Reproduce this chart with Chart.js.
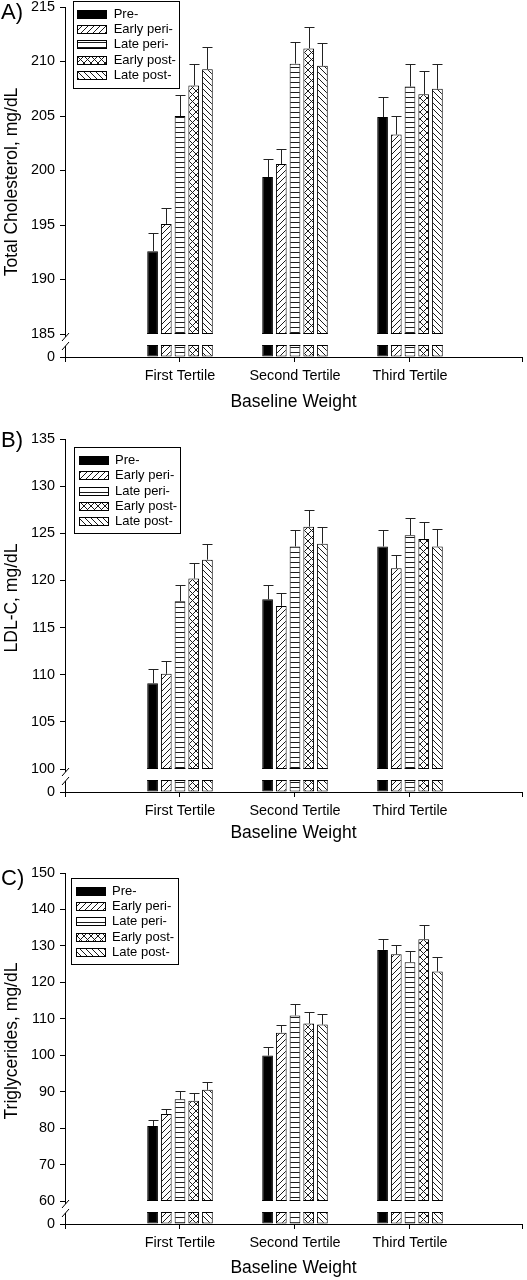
<!DOCTYPE html>
<html>
<head>
<meta charset="utf-8">
<script src="https://cdn.jsdelivr.net/npm/chart.js@4.4.1/dist/chart.umd.min.js"></script>
<style>
html,body{margin:0;padding:0;background:#fff;}
body{width:527px;height:1280px;position:relative;overflow:hidden;}
canvas{position:absolute;left:0;}
</style>
</head>
<body>
<canvas id="cA" width="527" height="415" style="top:0px"></canvas>
<canvas id="cB" width="527" height="430" style="top:415px"></canvas>
<canvas id="cC" width="527" height="435" style="top:845px"></canvas>
<script>
// ---------------- DATA ----------------
const categories = ['First Tertile', 'Second Tertile', 'Third Tertile'];
const seriesLabels = ['Pre-', 'Early peri-', 'Late peri-', 'Early post-', 'Late post-'];

// Panel A: Total Cholesterol, mg/dL
const tcPre       = [192.6, 199.4, 204.9];
const tcEarlyPeri = [195.1, 200.6, 203.3];
const tcLatePeri  = [205.0, 209.8, 207.7];
const tcEarlyPost = [207.8, 211.2, 207.0];
const tcLatePost  = [209.3, 209.6, 207.5];
const tcPreErr       = [1.7, 1.7, 1.8];
const tcEarlyPeriErr = [1.5, 1.4, 1.7];
const tcLatePeriErr  = [1.9, 2.0, 2.1];
const tcEarlyPostErr = [2.0, 2.0, 2.1];
const tcLatePostErr  = [2.0, 2.1, 2.3];
const tcTicks = [0, 185, 190, 195, 200, 205, 210, 215];

// Panel B: LDL-C, mg/dL
const ldlPre       = [109.1, 118.0, 123.6];
const ldlEarlyPeri = [110.1, 117.3, 121.3];
const ldlLatePeri  = [117.8, 123.6, 124.8];
const ldlEarlyPost = [120.2, 125.7, 124.4];
const ldlLatePost  = [122.2, 123.9, 123.6];
const ldlPreErr       = [1.5, 1.5, 1.7];
const ldlEarlyPeriErr = [1.4, 1.35, 1.4];
const ldlLatePeriErr  = [1.7, 1.8, 1.8];
const ldlEarlyPostErr = [1.7, 1.8, 1.8];
const ldlLatePostErr  = [1.7, 1.8, 1.9];
const ldlTicks = [0, 100, 105, 110, 115, 120, 125, 130, 135];

// Panel C: Triglycerides, mg/dL
const tgPre       = [80.6, 99.9, 128.9];
const tgEarlyPeri = [83.9, 106.2, 127.7];
const tgLatePeri  = [87.9, 110.9, 125.5];
const tgEarlyPost = [87.5, 108.7, 131.8];
const tgLatePost  = [90.5, 108.4, 123.0];
const tgPreErr       = [1.65, 2.3, 3.1];
const tgEarlyPeriErr = [1.4, 2.2, 2.6];
const tgLatePeriErr  = [2.2, 3.2, 3.2];
const tgEarlyPostErr = [2.1, 3.1, 3.85];
const tgLatePostErr  = [2.1, 3.0, 3.9];
const tgTicks = [0, 60, 70, 80, 90, 100, 110, 120, 130, 140, 150];

// ---------------- BROKEN AXIS SCALE ----------------
class BrokenLinearScale extends Chart.LinearScale {
  getPixelForValue(value) {
    if (value === null || value === undefined || isNaN(value)) return NaN;
    const at = this.options.brkAt, px = this.options.brkPx;
    const bottom = this.bottom, top = this.top, bp = bottom - px;
    if (value <= at) return bottom - (value - this.min) / (at - this.min) * px;
    return bp - (value - at) / (this.max - at) * (bp - top);
  }
  getValueForPixel(pixel) {
    const at = this.options.brkAt, px = this.options.brkPx;
    const bottom = this.bottom, top = this.top, bp = bottom - px;
    if (pixel >= bp) return this.min + (bottom - pixel) / px * (at - this.min);
    return at + (bp - pixel) / (bp - top) * (this.max - at);
  }
}
BrokenLinearScale.id = 'brokenLinear';
Chart.register(BrokenLinearScale);

Chart.defaults.font.family = "'Liberation Sans', Arial, sans-serif";
Chart.defaults.color = '#000';

const FONT = "'Liberation Sans', Arial, sans-serif";

function pat(ctx, kind) {
  const size = kind === 'x' ? 7 : (kind === 'h' ? 5 : 6);
  const c = document.createElement('canvas');
  c.width = kind === 'h' ? 4 : size; c.height = size;
  const g = c.getContext('2d');
  g.fillStyle = '#fff'; g.fillRect(0, 0, c.width, c.height);
  g.strokeStyle = '#1a1a1a'; g.fillStyle = '#1a1a1a'; g.lineWidth = 1;
  if (kind === 'h') { g.fillRect(0, 2, c.width, 1); }
  g.beginPath();
  if (kind === 'f' || kind === 'x') {
    g.moveTo(-1, size + 1); g.lineTo(size + 1, -1);
    g.moveTo(-1, 1); g.lineTo(1, -1);
    g.moveTo(size - 1, size + 1); g.lineTo(size + 1, size - 1);
  }
  if (kind === 'b' || kind === 'x') {
    g.moveTo(-1, -1); g.lineTo(size + 1, size + 1);
    g.moveTo(size - 1, -1); g.lineTo(size + 1, 1);
    g.moveTo(-1, size - 1); g.lineTo(1, size + 1);
  }
  g.stroke();
  return ctx.createPattern(c, 'repeat');
}

const decoPlugin = {
  id: 'deco',
  afterDatasetsDraw(chart, args, opts) {
    const {ctx, chartArea: ca} = chart;
    const ys = chart.scales.y;
    const brk = ys.bottom - ys.options.brkPx;
    const lowTop = ys.bottom - opts.lowH;
    ctx.save();
    // gap in bars
    ctx.fillStyle = '#fff';
    ctx.fillRect(ca.left + 1, brk, ca.right - ca.left - 1, lowTop - brk);
    ctx.strokeStyle = '#000'; ctx.lineWidth = 1;
    chart.data.datasets.forEach((ds, di) => {
      const meta = chart.getDatasetMeta(di);
      meta.data.forEach((el, j) => {
        const p = el.getProps(['x', 'y', 'width'], true);
        const l = p.x - p.width / 2, r = p.x + p.width / 2;
        ctx.beginPath();
        ctx.moveTo(l, Math.round(brk) - 0.5); ctx.lineTo(r, Math.round(brk) - 0.5);
        ctx.moveTo(l, Math.round(lowTop) + 0.5); ctx.lineTo(r, Math.round(lowTop) + 0.5);
        ctx.stroke();
        // error bar (upper)
        const v = ds.data[j].y + ds.err[j];
        const yt = Math.round(ys.getPixelForValue(v)) + 0.5;
        const xc = Math.round(p.x) + 0.5;
        ctx.strokeStyle = '#222';
        ctx.beginPath();
        ctx.moveTo(xc, p.y); ctx.lineTo(xc, yt);
        ctx.moveTo(xc - 5, yt); ctx.lineTo(xc + 5, yt);
        ctx.stroke();
        ctx.strokeStyle = '#000';
      });
    });
    ctx.restore();
  },
  afterDraw(chart, args, opts) {
    const {ctx, chartArea: ca} = chart;
    const ys = chart.scales.y;
    ctx.save();
    // axis break marks
    const ax = ca.left + 0.5;
    const s1 = ys.bottom - 20, s2 = ys.bottom - 11;
    ctx.fillStyle = '#fff';
    ctx.fillRect(ax - 2.5, s1, 5, s2 - s1);
    ctx.strokeStyle = '#000'; ctx.lineWidth = 1;
    ctx.beginPath();
    ctx.moveTo(ax - 3.5, s1 + 4); ctx.lineTo(ax + 3.5, s1 - 4);
    ctx.moveTo(ax - 3.5, s2 + 4); ctx.lineTo(ax + 3.5, s2 - 4);
    ctx.stroke();
    // y-axis title
    ctx.save();
    ctx.translate(12, opts.yTitleY);
    ctx.rotate(-Math.PI / 2);
    ctx.font = '17.5px ' + FONT;
    ctx.fillStyle = '#000';
    ctx.textAlign = 'center';
    ctx.textBaseline = 'middle';
    ctx.fillText(opts.yTitle, 0, 0);
    ctx.restore();
    // legend
    const L = opts.legend;
    ctx.fillStyle = '#fff';
    ctx.fillRect(L.x, L.y, L.w, L.h);
    ctx.strokeRect(Math.round(L.x) + 0.5, Math.round(L.y) + 0.5, Math.round(L.w), Math.round(L.h));
    ctx.font = '13px ' + FONT;
    ctx.textBaseline = 'middle';
    ctx.textAlign = 'left';
    chart.data.datasets.forEach((ds, i) => {
      const cy = L.y + 13.3 + i * 15.3;
      const sx = Math.round(L.x + 4.5), sy = Math.round(cy - 4.5);
      ctx.fillStyle = ds.backgroundColor;
      ctx.fillRect(sx, sy, 30, 9);
      ctx.strokeRect(sx + 0.5, sy + 0.5, 29, 8);
      ctx.fillStyle = '#000';
      ctx.fillText(ds.label, L.x + 41, cy);
    });
    // panel label
    ctx.font = '22px ' + FONT;
    ctx.fillStyle = '#000';
    ctx.fillText(opts.panel, 1, opts.panelY);
    ctx.restore();
  }
};

function makeChart(spec) {
  const canvas = document.getElementById(spec.id);
  const ctx = canvas.getContext('2d');
  const fills = ['#000', pat(ctx, 'f'), pat(ctx, 'h'), pat(ctx, 'x'), pat(ctx, 'b')];
  const datasets = spec.series.map((vals, i) => ({
    label: seriesLabels[i],
    data: vals.map((v, j) => ({x: j + 1, y: v})),
    err: spec.errors[i],
    backgroundColor: fills[i],
    borderColor: '#000',
    borderWidth: 1,
    borderSkipped: false,
    categoryPercentage: 0.612,
    barPercentage: 0.78
  }));
  const H = canvas.height;
  const xMax = 3.974;
  return new Chart(ctx, {
    type: 'bar',
    data: {datasets},
    plugins: [decoPlugin],
    options: {
      responsive: false,
      animation: false,
      devicePixelRatio: 1,
      layout: {padding: {top: spec.areaTop, left: 0, right: 5, bottom: 0}},
      plugins: {
        legend: {display: false},
        tooltip: {enabled: false},
        deco: {
          lowH: 12,
          legend: spec.legend,
          panel: spec.panel,
          panelY: spec.panelY,
          yTitle: spec.yTitle,
          yTitleY: spec.yTitleY
        }
      },
      scales: {
        x: {
          type: 'linear',
          position: 'bottom',
          min: 0,
          max: xMax,
          offset: false,
          afterBuildTicks: s => { s.ticks = [0, 1, 2, 3, xMax].map(v => ({value: v})); },
          afterFit: s => { s.height = H - spec.areaBottom; s.paddingLeft = 0; s.paddingRight = 0; },
          ticks: {
            autoSkip: false, maxRotation: 0, minRotation: 0, padding: 5,
            font: {size: 14.4, lineHeight: 1.2},
            callback: v => (Number.isInteger(v) && v >= 1 && v <= categories.length) ? categories[v - 1] : ''
          },
          grid: {display: true, offset: false, drawOnChartArea: false, drawTicks: true, tickLength: 5, color: '#000', lineWidth: 1},
          border: {display: true, color: '#000', width: 1},
          title: {display: true, text: 'Baseline Weight', font: {size: 17.5, lineHeight: 1.2}, padding: {top: 0, bottom: spec.xTitlePad}}
        },
        y: {
          type: 'brokenLinear',
          position: 'left',
          min: spec.ticks[0],
          max: spec.ticks[spec.ticks.length - 1],
          brkAt: spec.ticks[1],
          brkPx: 23,
          afterBuildTicks: s => { s.ticks = spec.ticks.map(v => ({value: v})); },
          afterFit: s => { s.width = 65; s.paddingTop = 0; s.paddingBottom = 0; },
          ticks: {
            autoSkip: false, padding: 5,
            font: {size: 14.4, lineHeight: 1.2},
            callback: v => String(v)
          },
          grid: {display: true, drawOnChartArea: false, drawTicks: true, tickLength: 5, color: '#000', lineWidth: 1},
          border: {display: true, color: '#000', width: 1},
          title: {display: false}
        }
      }
    }
  });
}

makeChart({
  id: 'cA', panel: 'A)', panelY: 13,
  series: [tcPre, tcEarlyPeri, tcLatePeri, tcEarlyPost, tcLatePost],
  errors: [tcPreErr, tcEarlyPeriErr, tcLatePeriErr, tcEarlyPostErr, tcLatePostErr],
  ticks: tcTicks, yTitle: 'Total Cholesterol, mg/dL', yTitleY: 182,
  areaTop: 7, areaBottom: 357, xTitlePad: 2.5,
  legend: {x: 72.7, y: 1, w: 106.3, h: 87}
});
makeChart({
  id: 'cB', panel: 'B)', panelY: 26,
  series: [ldlPre, ldlEarlyPeri, ldlLatePeri, ldlEarlyPost, ldlLatePost],
  errors: [ldlPreErr, ldlEarlyPeriErr, ldlLatePeriErr, ldlEarlyPostErr, ldlLatePostErr],
  ticks: ldlTicks, yTitle: 'LDL-C, mg/dL', yTitleY: 598 - 415,
  areaTop: 24, areaBottom: 377, xTitlePad: 1.5,
  legend: {x: 74, y: 32.3, w: 106.3, h: 86}
});
makeChart({
  id: 'cC', panel: 'C)', panelY: 34,
  series: [tgPre, tgEarlyPeri, tgLatePeri, tgEarlyPost, tgLatePost],
  errors: [tgPreErr, tgEarlyPeriErr, tgLatePeriErr, tgEarlyPostErr, tgLatePostErr],
  ticks: tgTicks, yTitle: 'Triglycerides, mg/dL', yTitleY: 1041 - 845,
  areaTop: 28, areaBottom: 379, xTitlePad: 1.5,
  legend: {x: 71, y: 33, w: 106.7, h: 86.3}
});
</script>
</body>
</html>
